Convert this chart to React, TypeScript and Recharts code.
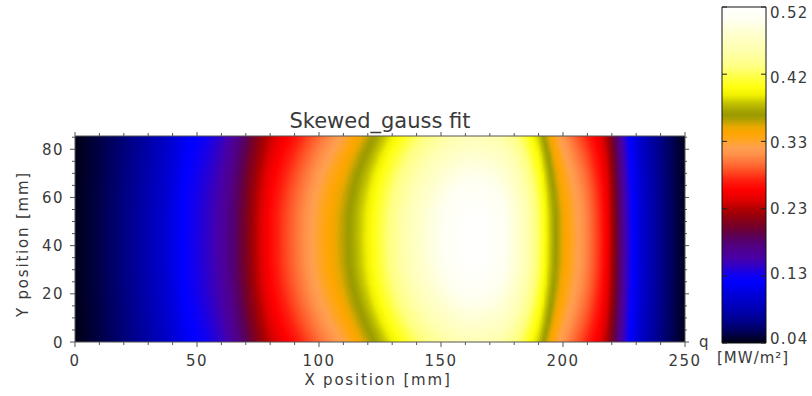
import React from 'react';
import { ComposedChart, XAxis, YAxis, ReferenceArea } from 'recharts';

// ---------- data ----------
// horizontal profile of q along the centre row (x in mm -> MW/m²)
const xKnots = [0, 5, 10, 15, 20, 25, 30, 35, 40, 45, 50, 55, 60, 65, 70, 75, 80, 85, 90, 95, 100, 105, 110, 115, 120, 125, 130, 135, 140, 145, 150, 155, 160, 165, 170, 175, 180, 185, 190, 194, 197, 200, 205, 210, 215, 218, 221, 224, 227, 230, 235, 240, 245, 250];
const xProfile = [0.042, 0.047, 0.053, 0.06, 0.068, 0.077, 0.088, 0.1, 0.114, 0.13, 0.141, 0.152, 0.165, 0.185, 0.21, 0.238, 0.262, 0.28, 0.296, 0.312, 0.328, 0.343, 0.358, 0.377, 0.397, 0.419, 0.44, 0.459, 0.476, 0.49, 0.502, 0.512, 0.518, 0.519, 0.515, 0.507, 0.49, 0.463, 0.428, 0.39, 0.366, 0.347, 0.324, 0.303, 0.277, 0.254, 0.218, 0.178, 0.144, 0.119, 0.092, 0.072, 0.056, 0.043];
// relative height of the profile above the base level along Y (mm)
const yKnots = [0, 8, 16, 24, 32, 42.75, 53.5, 61.5, 69.5, 77.5, 85.5];
const yFactor = [0.885, 0.925, 0.958, 0.982, 0.996, 1.0, 0.996, 0.982, 0.958, 0.925, 0.885];
const baseLevel = 0.04;

// colour table (value -> colour)
const cmapLevels = [0.04, 0.056, 0.07, 0.087, 0.109, 0.127, 0.137, 0.15, 0.161, 0.176, 0.19, 0.204, 0.219, 0.231, 0.244, 0.259, 0.273, 0.284, 0.297, 0.309, 0.319, 0.33, 0.34, 0.349, 0.359, 0.366, 0.373, 0.384, 0.394, 0.406, 0.419, 0.434, 0.459, 0.483, 0.501, 0.52];
const cmapColors = ['#000010', '#000058', '#000088', '#0000b0', '#0000d8', '#0000ff', '#1000f0', '#3000c8', '#4800a8', '#500088', '#580060', '#700030', '#900010', '#b00000', '#e00000', '#ff0000', '#ff2010', '#ff4820', '#ff7038', '#ff9048', '#ffa050', '#ffa520', '#ffa500', '#e8a800', '#b0a000', '#9a9a00', '#a8a800', '#c8c800', '#f0f000', '#ffff10', '#ffff40', '#ffff80', '#ffffb0', '#ffffd0', '#fffff0', '#ffffff'];

const xMajorTicks = [0, 50, 100, 150, 200, 250];
const xAllTicks = [0, 10, 20, 30, 40, 50, 60, 70, 80, 90, 100, 110, 120, 130, 140, 150, 160, 170, 180, 190, 200, 210, 220, 230, 240, 250];
const yMajorTicks = [0, 20, 40, 60, 80];
const yAllTicks = [0, 5, 10, 15, 20, 25, 30, 35, 40, 45, 50, 55, 60, 65, 70, 75, 80, 85];
const cbTickValues = [0.04, 0.136, 0.232, 0.328, 0.424, 0.52];
const cbTickLabels = ['0.04', '0.13', '0.23', '0.33', '0.42', '0.52'];

const xDomain: [number, number] = [0, 250];
const yDomain: [number, number] = [0, 85.5];
const cbDomain: [number, number] = [0.04, 0.52];

// ---------- helpers ----------
const lerp = (ks: number[], vs: number[], t: number) => {
  if (t <= ks[0]) return vs[0];
  for (let i = 1; i < ks.length; i++) {
    if (t <= ks[i]) {
      const f = (t - ks[i - 1]) / (ks[i] - ks[i - 1]);
      return vs[i - 1] + f * (vs[i] - vs[i - 1]);
    }
  }
  return vs[vs.length - 1];
};
const hex = (c: string) => [parseInt(c.slice(1, 3), 16), parseInt(c.slice(3, 5), 16), parseInt(c.slice(5, 7), 16)];
const cmapRgb = cmapColors.map(hex);
const colorAt = (v: number) => {
  const t = Math.max(cmapLevels[0], Math.min(cmapLevels[cmapLevels.length - 1], v));
  let i = 1;
  while (i < cmapLevels.length - 1 && t > cmapLevels[i]) i++;
  const f = (t - cmapLevels[i - 1]) / (cmapLevels[i] - cmapLevels[i - 1]);
  const a = cmapRgb[i - 1], b = cmapRgb[i];
  const c = a.map((av, k) => Math.round(av + f * (b[k] - av)));
  return `rgb(${c[0]},${c[1]},${c[2]})`;
};

const STRIPS = 90;
const stripH = (yDomain[1] - yDomain[0]) / STRIPS;
const xSamples: number[] = [];
for (let x = xDomain[0]; x <= xDomain[1]; x += 1) xSamples.push(x);

const rows = Array.from({ length: STRIPS }, (_, j) => {
  const yc = (j + 0.5) * stripH;
  const fy = lerp(yKnots, yFactor, yc);
  return {
    id: `row${j}`,
    y1: j * stripH,
    y2: Math.min(yDomain[1], (j + 1) * stripH + stripH * 0.4),
    stops: xSamples.map((x) => ({
      off: (x - xDomain[0]) / (xDomain[1] - xDomain[0]),
      col: colorAt(baseLevel + (lerp(xKnots, xProfile, x) - baseLevel) * fy),
    })),
  };
});

// ---------- styling ----------
const FONT = 'DejaVu Sans';
const TXT = '#3a3a3a';
const AX = '#555555';

const BottomTick = (p: any) => {
  const { x, y, payload } = p;
  const major = xMajorTicks.includes(payload.value);
  return (
    <g>
      <line x1={x} x2={x} y1={y} y2={y + (major ? 5 : 3)} stroke={AX} />
      {major && (
        <text x={x} y={y + 24} textAnchor="middle" fontFamily={FONT} fontSize={15} letterSpacing={1.5} fill={TXT}>
          {payload.value}
        </text>
      )}
    </g>
  );
};
const TopTick = (p: any) => {
  const { x, y, payload } = p;
  const major = xMajorTicks.includes(payload.value);
  return <line x1={x} x2={x} y1={y} y2={y - (major ? 4 : 3)} stroke={AX} />;
};
const LeftTick = (p: any) => {
  const { x, y, payload } = p;
  const major = yMajorTicks.includes(payload.value);
  return (
    <g>
      <line x1={x} x2={x - (major ? 5 : 3)} y1={y} y2={y} stroke={AX} />
      {major && (
        <text x={x - 11} y={y + 5.5} textAnchor="end" fontFamily={FONT} fontSize={15} letterSpacing={1.5} fill={TXT}>
          {payload.value}
        </text>
      )}
    </g>
  );
};
const RightTick = (p: any) => {
  const { x, y, payload } = p;
  const major = yMajorTicks.includes(payload.value);
  return <line x1={x} x2={x + (major ? 4 : 2)} y1={y} y2={y} stroke={AX} />;
};
const CB_W = 44;
const CbTick = (p: any) => {
  const { x, y, payload } = p;
  const idx = cbTickValues.indexOf(payload.value);
  return (
    <g>
      <line x1={x} x2={x - 5} y1={y} y2={y} stroke="#222" />
      <line x1={x - CB_W} x2={x - CB_W + 5} y1={y} y2={y} stroke="#222" />
      <text x={x + 4} y={y + 1 + idx * 2} fontFamily={FONT} fontSize={15} letterSpacing={1.3} fill={TXT}>
        {cbTickLabels[idx]}
      </text>
    </g>
  );
};

export default function App() {
  return (
    <div style={{ position: 'absolute', left: 0, top: 0, width: 812, height: 396, background: '#fff', overflow: 'hidden' }}>
      <svg width={0} height={0} style={{ position: 'absolute' }}>
        <defs>
          {rows.map((r) => (
            <linearGradient key={r.id} id={r.id} x1="0" y1="0" x2="1" y2="0">
              {r.stops.map((s, k) => (
                <stop key={k} offset={s.off} stopColor={s.col} />
              ))}
            </linearGradient>
          ))}
          <linearGradient id="cbGrad" x1="0" y1="1" x2="0" y2="0">
            {cmapLevels.map((v, k) => (
              <stop key={k} offset={(v - cbDomain[0]) / (cbDomain[1] - cbDomain[0])} stopColor={cmapColors[k]} />
            ))}
          </linearGradient>
        </defs>
      </svg>

      <div style={{ position: 'absolute', left: 0, top: 0 }}>
        <ComposedChart width={812} height={396} data={xAllTicks.map((x) => ({ x }))} margin={{ top: 135, right: 126, bottom: 53, left: 74 }}>
          <XAxis xAxisId="b" type="number" dataKey="x" domain={xDomain} ticks={xAllTicks} interval={0} height={1} tickSize={0} tickMargin={0} tickLine={false} axisLine={{ stroke: AX }} tick={(p: any) => <BottomTick {...p} />} allowDataOverflow />
          <XAxis xAxisId="t" orientation="top" type="number" dataKey="x" domain={xDomain} ticks={xAllTicks} interval={0} height={1} tickSize={0} tickMargin={0} tickLine={false} axisLine={{ stroke: AX }} tick={(p: any) => <TopTick {...p} />} allowDataOverflow />
          <YAxis yAxisId="l" type="number" domain={yDomain} ticks={yAllTicks} interval={0} width={1} tickSize={0} tickMargin={0} tickLine={false} axisLine={{ stroke: AX }} tick={(p: any) => <LeftTick {...p} />} allowDataOverflow />
          <YAxis yAxisId="r" orientation="right" type="number" domain={yDomain} ticks={yAllTicks} interval={0} width={1} tickSize={0} tickMargin={0} tickLine={false} axisLine={{ stroke: AX }} tick={(p: any) => <RightTick {...p} />} allowDataOverflow />
          {rows.map((r) => (
            <ReferenceArea key={r.id} xAxisId="b" yAxisId="l" x1={xDomain[0]} x2={xDomain[1]} y1={r.y1} y2={r.y2} fill={`url(#${r.id})`} fillOpacity={1} stroke="none" isAnimationActive={false} />
          ))}
        </ComposedChart>
      </div>

      <div style={{ position: 'absolute', left: 700, top: 0 }}>
        <ComposedChart width={112} height={396} data={[{ x: 0 }, { x: 1 }]} margin={{ top: 7, right: 45, bottom: 53, left: 22 }}>
          <XAxis xAxisId="cx" type="number" dataKey="x" domain={[0, 1]} hide />
          <YAxis yAxisId="cy" orientation="right" type="number" domain={cbDomain} ticks={cbTickValues} interval={0} width={1} tickSize={0} tickMargin={0} tickLine={false} axisLine={false} tick={(p: any) => <CbTick {...p} />} allowDataOverflow />
          <ReferenceArea xAxisId="cx" yAxisId="cy" x1={0} x2={1} y1={cbDomain[0]} y2={cbDomain[1]} fill="url(#cbGrad)" fillOpacity={1} stroke="#111" strokeWidth={1} isAnimationActive={false} />
        </ComposedChart>
      </div>

      <svg width={812} height={396} style={{ position: 'absolute', left: 0, top: 0, pointerEvents: 'none' }}>
        <text x={380} y={128} textAnchor="middle" fontFamily={FONT} fontSize={21} fill={TXT}>Skewed_gauss fit</text>
        <text x={378} y={385} textAnchor="middle" fontFamily={FONT} fontSize={15} letterSpacing={1.8} fill={TXT}>X position [mm]</text>
        <text x={28} y={244} transform="rotate(-90, 28, 244)" textAnchor="middle" fontFamily={FONT} fontSize={15} letterSpacing={1.8} fill={TXT}>Y position [mm]</text>
        <text x={699} y={347} fontFamily={FONT} fontSize={15} fill={TXT}>q</text>
        <text x={717} y={363} fontFamily={FONT} fontSize={15} letterSpacing={1} fill={TXT}>[MW/m²]</text>
      </svg>
    </div>
  );
}
